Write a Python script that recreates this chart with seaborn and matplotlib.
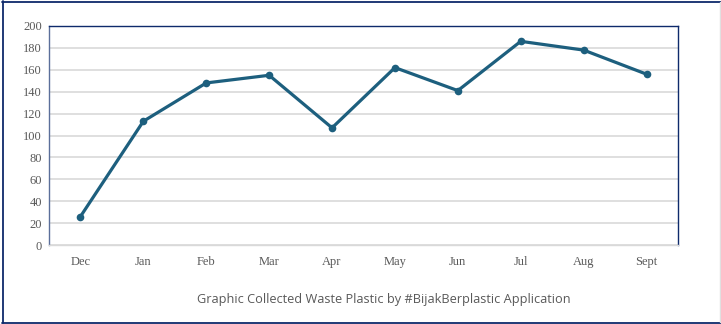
import matplotlib
matplotlib.use("Agg")
import matplotlib.pyplot as plt
import seaborn as sns
import pandas as pd
from matplotlib.lines import Line2D

months = ["Dec", "Jan", "Feb", "Mar", "Apr", "May", "Jun", "Jul", "Aug", "Sept"]
collected = [26, 113, 148, 155, 107, 162, 141, 186, 178, 156]
y_ticks = list(range(0, 201, 20))
title = "Graphic Collected Waste Plastic by #BijakBerplastic Application"

df = pd.DataFrame({"month": months, "collected": collected})

sns.set_style("white")
line_color = "#1d5f7e"
navy = "#0e2a6b"

fig = plt.figure(figsize=(7.21, 3.24), dpi=100)
ax = fig.add_axes([49 / 721, 1 - 245 / 324, 629 / 721, 219 / 324])

sns.lineplot(data=df, x="month", y="collected", ax=ax, color=line_color,
             linewidth=2.3, marker="o", markersize=5.5, markeredgewidth=0,
             sort=False)

ax.set_xlim(-0.5, len(months) - 0.5)
ax.set_ylim(0, 200)
ax.set_yticks(y_ticks)
ax.set_yticklabels([str(t) for t in y_ticks])
ax.yaxis.grid(True, color="#d9d9d9", linewidth=1.2)
ax.set_axisbelow(True)
ax.set_xlabel("")
ax.set_ylabel("")
ax.tick_params(axis="both", length=0, labelsize=9, labelcolor="#595959")
ax.tick_params(axis="x", pad=8)
ax.tick_params(axis="y", pad=5)
for lab in ax.get_xticklabels() + ax.get_yticklabels():
    lab.set_family("Liberation Serif")

ax.spines["top"].set_color(navy)
ax.spines["right"].set_color(navy)
ax.spines["left"].set_color("#5b6f9a")
ax.spines["bottom"].set_color("#d9d9d9")
for s in ax.spines.values():
    s.set_linewidth(1.0)

fig.text(384 / 721, 1 - 300 / 324, title, ha="center", va="center",
         fontsize=9.2, color="#595959", family="Open Sans")

# outer frame
fig.add_artist(Line2D([2.5 / 721, 2.5 / 721], [1 / 324, 323 / 324], color=navy, lw=1.3, transform=fig.transFigure))
fig.add_artist(Line2D([2 / 721, 1], [1 - 1.5 / 324, 1 - 1.5 / 324], color=navy, lw=1.3, transform=fig.transFigure))
fig.add_artist(Line2D([2 / 721, 1], [1.5 / 324, 1.5 / 324], color=navy, lw=1.3, transform=fig.transFigure))
fig.add_artist(Line2D([719.5 / 721, 719.5 / 721], [2 / 324, 322 / 324], color="#e0e0e0", lw=1.0, transform=fig.transFigure))

fig.savefig("out.png", dpi=100)
